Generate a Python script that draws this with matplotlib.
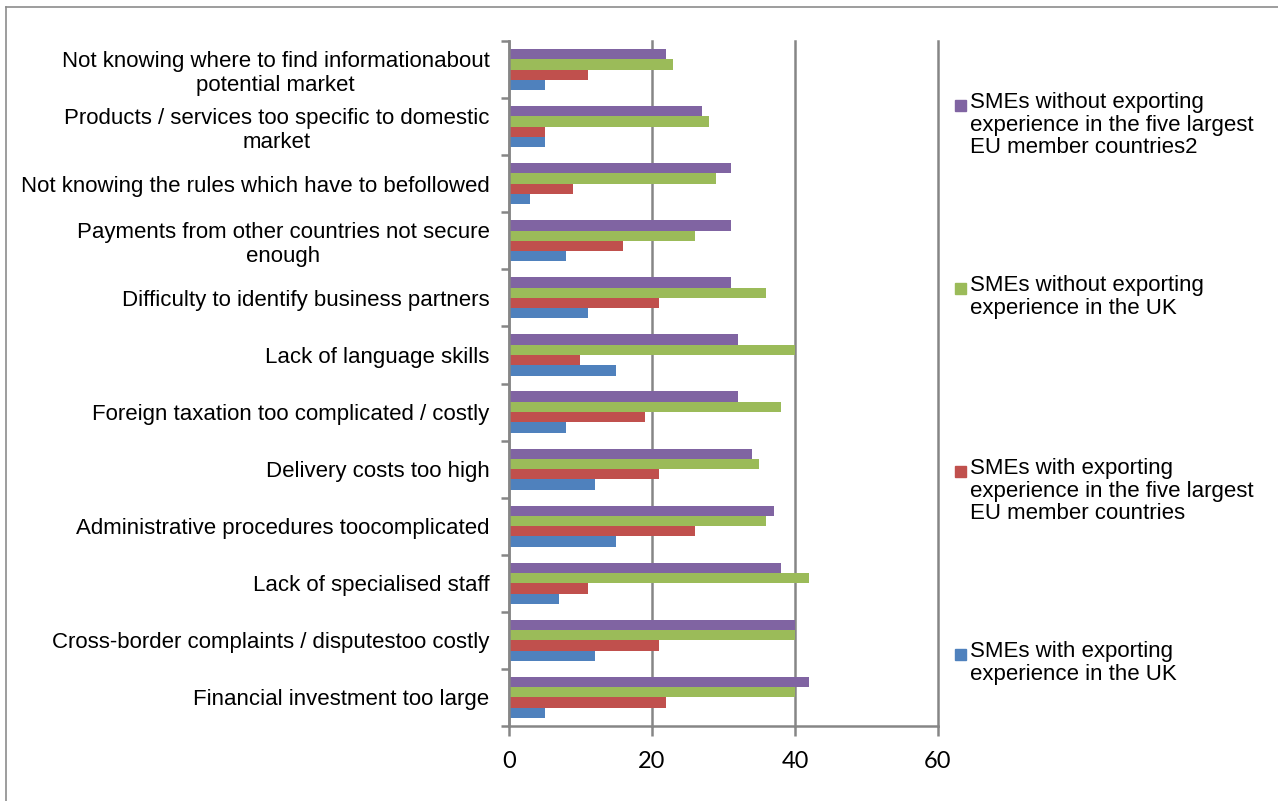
import matplotlib
matplotlib.use("Agg")
import matplotlib.pyplot as plt
from matplotlib.patches import Rectangle
from matplotlib.lines import Line2D
import numpy as np

# ---- data (bottom to top) ----
categories = [
    "Financial investment too large",
    "Cross-border complaints / disputestoo costly",
    "Lack of specialised staff",
    "Administrative procedures toocomplicated",
    "Delivery costs too high",
    "Foreign taxation too complicated / costly",
    "Lack of language skills",
    "Difficulty to identify business partners",
    "Payments from other countries not secure\nenough",
    "Not knowing the rules which have to befollowed",
    "Products / services too specific to domestic\nmarket",
    "Not knowing where to find informationabout\npotential market",
]
with_uk = [5, 12, 7, 15, 12, 8, 15, 11, 8, 3, 5, 5]
with_eu5 = [22, 21, 11, 26, 21, 19, 10, 21, 16, 9, 5, 11]
without_uk = [40, 40, 42, 36, 35, 38, 40, 36, 26, 29, 28, 23]
without_eu5 = [42, 40, 38, 37, 34, 32, 32, 31, 31, 31, 27, 22]

series_labels = [
    "SMEs with exporting\nexperience in the UK",
    "SMEs with exporting\nexperience in the five largest\nEU member countries",
    "SMEs without exporting\nexperience in the UK",
    "SMEs without exporting\nexperience in the five largest\nEU member countries2",
]
series_values = [with_uk, with_eu5, without_uk, without_eu5]
series_colors = ["#4F81BD", "#C0504D", "#9BBB59", "#8064A2"]
x_ticks = [0, 20, 40, 60]

W, H = 1278, 801
fig = plt.figure(figsize=(W / 100, H / 100), dpi=100)
ax = fig.add_axes([509 / W, 1 - 726 / H, (938 - 509) / W, (726 - 41) / H])

gray = "#868686"
y = np.arange(len(categories))
bh = 0.18
offsets = [-1.5 * bh, -0.5 * bh, 0.5 * bh, 1.5 * bh]
for vals, col, off in zip(series_values, series_colors, offsets):
    ax.barh(y + off, vals, height=bh, color=col, edgecolor="none", zorder=3)

ax.set_xlim(0, 60)
ax.set_ylim(-0.5, len(categories) - 0.5)
ax.set_xticks(x_ticks)
ax.set_xticklabels([str(t) for t in x_ticks], fontsize=17, family="Lato")
ax.set_yticks(y)
ax.set_yticklabels(categories, fontsize=16, family="Liberation Sans",
                   multialignment="center", linespacing=1.2)
ax.set_yticks(np.arange(len(categories) + 1) - 0.5, minor=True)
ax.tick_params(axis="y", which="major", length=0, pad=14)
ax.tick_params(axis="y", which="minor", length=6, width=1.8, color=gray)
ax.tick_params(axis="x", which="major", length=7, width=1.8, color=gray, pad=11)

for s in ["top", "right"]:
    ax.spines[s].set_visible(False)
for s in ["left", "bottom"]:
    ax.spines[s].set_color(gray)
    ax.spines[s].set_linewidth(1.8)
    ax.spines[s].set_zorder(4)

ax.grid(axis="x", color=gray, linewidth=1.8, zorder=1)
for gl in ax.get_xgridlines():
    gl.set_clip_on(False)
ax.set_axisbelow(True)

# legend (manual, evenly spaced entries)
baselines = [657, 474, 291, 108]  # pixel baselines of first line for each series
for lab, col, yb in zip(series_labels, series_colors, baselines):
    fig.add_artist(Rectangle((955 / W, 1 - (yb + 3) / H), 11 / W, 11 / H,
                             transform=fig.transFigure, color=col))
    fig.text(970 / W, 1 - (yb - 16) / H, lab, fontsize=16, family="Liberation Sans",
             va="top", ha="left", linespacing=1.1)

# outer border (left & top visible)
fig.add_artist(Line2D([6 / W, 6 / W], [0, 1 - 7 / H], transform=fig.transFigure,
                      color="#8c8c8c", linewidth=1.2))
fig.add_artist(Line2D([6 / W, 1], [1 - 7 / H, 1 - 7 / H], transform=fig.transFigure,
                      color="#8c8c8c", linewidth=1.2))

fig.savefig("out.png", dpi=100, facecolor="white")
